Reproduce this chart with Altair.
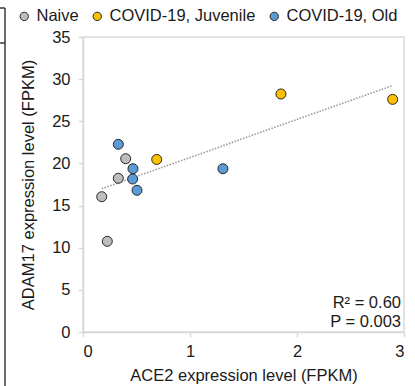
import altair as alt
import pandas as pd

groups = ["Naive", "COVID-19, Juvenile", "COVID-19, Old"]
colors = ["#BDBDBD", "#FFC000", "#5B9BD5"]

naive_x = [0.175, 0.227, 0.330, 0.399]
naive_y = [16.05, 10.76, 18.24, 20.56]
juv_x = [0.689, 1.85, 2.894]
juv_y = [20.47, 28.24, 27.6]
old_x = [0.330, 0.467, 0.464, 0.505, 1.308]
old_y = [22.27, 19.37, 18.15, 16.81, 19.37]

stats_text = ["R\u00b2 = 0.60", "P = 0.003"]

x_ticks = [0, 1, 2, 3]
y_ticks = [0, 5, 10, 15, 20, 25, 30, 35]

rows = []
for g, xs, ys in [(groups[0], naive_x, naive_y), (groups[1], juv_x, juv_y), (groups[2], old_x, old_y)]:
    for a, b in zip(xs, ys):
        rows.append({"group": g, "ace2": a, "adam17": b})
df = pd.DataFrame(rows)

FONT = "Liberation Sans"
TXT = "#1a1a1a"
GRID = "#d9d9d9"

xenc = alt.X("ace2:Q", title="ACE2 expression level (FPKM)",
             scale=alt.Scale(domain=[0, 3], nice=False),
             axis=alt.Axis(values=x_ticks, format="d", grid=False))
yenc = alt.Y("adam17:Q", title="ADAM17 expression level (FPKM)",
             scale=alt.Scale(domain=[0, 35], nice=False),
             axis=alt.Axis(values=y_ticks, format="d", grid=False))

base = alt.Chart(df)

trend = base.transform_regression("ace2", "adam17").mark_line(
    color="#9a9a9a", strokeWidth=1.6, strokeDash=[1.5, 1.5]
).encode(x=xenc, y=yenc)

points = base.mark_circle(size=100, opacity=1, stroke="#262626", strokeWidth=1).encode(
    x=xenc, y=yenc,
    color=alt.Color("group:N", scale=alt.Scale(domain=groups, range=colors),
                    sort=groups,
                    legend=alt.Legend(title=None, orient="none", direction="horizontal",
                                      legendX=-67, legendY=-29, padding=0,
                                      symbolType="circle", symbolSize=70,
                                      symbolStrokeColor="#262626", symbolStrokeWidth=1,
                                      symbolOpacity=1,
                                      labelFont=FONT, labelFontSize=16.5, labelColor=TXT,
                                      columnPadding=10, labelOffset=4)),
)

stats_df = pd.DataFrame({"label": stats_text})
stat_layers = []
for i, yv in enumerate([266, 285]):
    stat_layers.append(
        alt.Chart(stats_df.iloc[[i]]).mark_text(
            align="right", baseline="middle", font=FONT, fontSize=16.5, color=TXT
        ).encode(x=alt.value(318), y=alt.value(yv), text="label:N")
    )

frame_df = pd.DataFrame({"k": [0]})
vline = alt.Chart(frame_df).mark_rule(color="#3a3a3a", strokeWidth=1.5).encode(
    x=alt.value(-78), y=alt.value(-29), y2=alt.value(349))
h1 = alt.Chart(frame_df).mark_rule(color="#3a3a3a", strokeWidth=1.5).encode(
    x=alt.value(-83), x2=alt.value(-78), y=alt.value(-29))
h2 = alt.Chart(frame_df).mark_rule(color="#3a3a3a", strokeWidth=1.5).encode(
    x=alt.value(-83), x2=alt.value(-78), y=alt.value(6))

chart = alt.layer(trend, points, *stat_layers, vline, h1, h2).properties(
    width=321, height=295,
    autosize=alt.AutoSizeParams(type="none"),
    padding={"left": 83, "top": 37, "right": 11, "bottom": 54},
    background="white",
).configure_view(
    stroke=GRID, strokeWidth=1.5
).configure_axis(
    labelFont=FONT, titleFont=FONT, labelFontSize=16.5, titleFontSize=16.5,
    labelColor=TXT, titleColor=TXT, titleFontWeight="normal",
    domainColor=GRID, domainWidth=1.5, tickColor=GRID, tickWidth=1.5, tickSize=5,
).configure_axisX(
    labelPadding=6, titlePadding=8
).configure_axisY(
    labelPadding=8, titlePadding=15
)

chart.save("out.html", embed_options={"renderer": "svg", "actions": False})
